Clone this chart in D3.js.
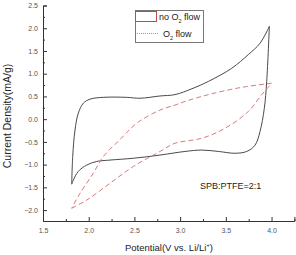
<!DOCTYPE html>
<html>
<head>
<meta charset="utf-8">
<script src="https://cdnjs.cloudflare.com/ajax/libs/d3/7.8.5/d3.min.js"></script>
<style>
  body { margin: 0; background: #fff; }
  text { font-family: "Liberation Sans", Arial, sans-serif; }
</style>
</head>
<body>
<div id="chart"></div>
<script>
const width = 296, height = 255;

// solid curve, potential (V) / current density (mA/g)
const solidAnodic = [
	[1.814, -1.43], [1.825, -0.82], [1.850, -0.24], [1.886, 0.13], [1.941, 0.35],
	[2.014, 0.44], [2.160, 0.48], [2.416, 0.48], [2.561, 0.46], [2.780, 0.51],
	[2.944, 0.54], [3.130, 0.67], [3.309, 0.83], [3.565, 1.12], [3.746, 1.42],
	[3.874, 1.67], [3.976, 2.04]
];
const solidCathodic = [
	[3.976, 2.04], [3.947, 0.83], [3.921, 0.24], [3.874, -0.27], [3.820, -0.57],
	[3.729, -0.71], [3.601, -0.75], [3.418, -0.71], [3.236, -0.68], [3.054, -0.71],
	[2.780, -0.79], [2.488, -0.86], [2.233, -0.90], [2.088, -0.93], [1.978, -1.01],
	[1.886, -1.15], [1.832, -1.34], [1.814, -1.43]
];
// dashed curve
const dashedUpper = [
	[4.002, 0.79], [3.674, 0.70], [3.309, 0.54], [3.054, 0.39], [2.944, 0.31],
	[2.780, 0.20], [2.525, -0.09], [2.342, -0.45], [2.160, -0.82], [2.050, -1.19],
	[1.905, -1.63], [1.814, -1.96]
];
const dashedLower = [
	[1.814, -1.96], [1.978, -1.78], [2.233, -1.41], [2.488, -1.04], [2.780, -0.71],
	[2.944, -0.53], [3.236, -0.42], [3.491, -0.20], [3.746, 0.17], [3.893, 0.54],
	[4.002, 0.79]
];

const xTicks = [1.5, 2.0, 2.5, 3.0, 3.5, 4.0];
const yTicks = [-2.0, -1.5, -1.0, -0.5, 0.0, 0.5, 1.0, 1.5, 2.0, 2.5];
const legendLabels = ["no O", "O"];

const svg = d3.select("#chart")
	.append("svg")
	.attr("width", width)
	.attr("height", height);

const x = d3.scaleLinear().domain([1.5, 4.25]).range([43, 294.4]);
const y = d3.scaleLinear().domain([-2.24, 2.5]).range([221, 5.5]);

const axisColor = "#333";

// axes, ticks pointing inwards
const xAxis = svg.append("g")
	.attr("transform", `translate(0,${y.range()[0]})`)
	.call(d3.axisBottom(x).tickValues(xTicks).tickSize(-4).tickFormat(d3.format(".1f")));
svg.append("g")
	.attr("transform", `translate(0,${y.range()[0]})`)
	.call(d3.axisBottom(x).tickValues(d3.range(1.75, 4.26, 0.5)).tickSize(-2).tickFormat(""))
	.select(".domain").remove();

const yAxis = svg.append("g")
	.attr("transform", `translate(${x.range()[0]},0)`)
	.call(d3.axisLeft(y).tickValues(yTicks).tickSize(-4).tickFormat(d3.format(".1f")));
svg.append("g")
	.attr("transform", `translate(${x.range()[0]},0)`)
	.call(d3.axisLeft(y).tickValues(d3.range(-1.75, 2.5, 0.5)).tickSize(-2).tickFormat(""))
	.select(".domain").remove();

svg.selectAll(".domain, .tick line").attr("stroke", axisColor);
xAxis.selectAll("text").attr("y", 7).attr("font-size", 7).attr("fill", "#555");
yAxis.selectAll("text").attr("x", -5).attr("font-size", 7).attr("fill", "#555");
svg.selectAll("g").attr("font-family", null);

// curves
const line = d3.line()
	.x(d => x(d[0]))
	.y(d => y(d[1]))
	.curve(d3.curveCatmullRom.alpha(0.5));

[solidAnodic, solidCathodic].forEach(function(pts){
	svg.append("path")
		.attr("d", line(pts))
		.attr("fill", "none")
		.attr("stroke", "#4a4a4a")
		.attr("stroke-width", 1);
});
[dashedUpper, dashedLower].forEach(function(pts){
	svg.append("path")
		.attr("d", line(pts))
		.attr("fill", "none")
		.attr("stroke", "#d77a7a")
		.attr("stroke-width", 1)
		.attr("stroke-dasharray", "5,3");
});

// axis titles
svg.append("text")
	.attr("x", 169)
	.attr("y", 251)
	.attr("text-anchor", "middle")
	.attr("font-size", 9.5)
	.attr("fill", "#222")
	.html("Potential(V vs. Li/Li<tspan font-size='6' dy='-4'>+</tspan><tspan dy='4'>)</tspan>");

svg.append("text")
	.attr("transform", "translate(11,116) rotate(-90)")
	.attr("text-anchor", "middle")
	.attr("font-size", 10.5)
	.attr("fill", "#222")
	.text("Current Density(mA/g)");

svg.append("text")
	.attr("x", 200)
	.attr("y", 188.5)
	.attr("font-size", 9)
	.attr("fill", "#222")
	.text("SPB:PTFE=2:1");

// legend
const legend = svg.append("g");
legend.append("rect")
	.attr("x", 135.5).attr("y", 10.5)
	.attr("width", 68).attr("height", 32)
	.attr("fill", "#fff")
	.attr("stroke", "#777")
	.attr("stroke-width", 1);
legend.append("rect")
	.attr("x", 135.5).attr("y", 11.5)
	.attr("width", 21).attr("height", 10)
	.attr("fill", "none")
	.attr("stroke", "#c04848")
	.attr("stroke-width", 1);
legend.append("line")
	.attr("x1", 137).attr("x2", 158)
	.attr("y1", 33.5).attr("y2", 33.5)
	.attr("stroke", "#999")
	.attr("stroke-dasharray", "1,1");

legend.selectAll(".label")
	.data(legendLabels)
	.enter()
	.append("text")
	.classed("label", true)
	.attr("x", (d, i) => i === 0 ? 159 : 163)
	.attr("y", (d, i) => i === 0 ? 20 : 37)
	.attr("font-size", 9)
	.attr("fill", "#222")
	.html(d => `${d}<tspan font-size="5.5" dy="2.5">2</tspan><tspan dy="-2.5"> flow</tspan>`);
</script>
</body>
</html>
